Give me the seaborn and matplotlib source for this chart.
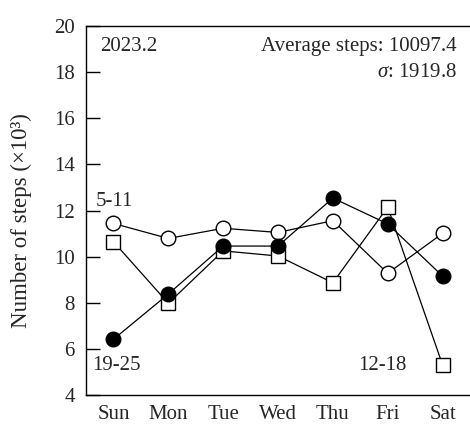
import numpy as np
import pandas as pd
import matplotlib
matplotlib.use("Agg")
import matplotlib.pyplot as plt
import seaborn as sns

days = ["Sun", "Mon", "Tue", "Wed", "Thu", "Fri", "Sat"]
week_5_11 = [11.44, 10.79, 11.23, 11.05, 11.56, 9.28, 11.01]
week_12_18 = [10.65, 7.98, 10.25, 10.03, 8.87, 12.15, 5.31]
week_19_25 = [6.42, 8.38, 10.46, 10.46, 12.54, 11.42, 9.16]
weeks = ["5-11", "12-18", "19-25"]
yticks = [4, 6, 8, 10, 12, 14, 16, 18, 20]

sns.set_theme(style="white")
plt.rcParams["font.family"] = ["Liberation Serif", "DejaVu Serif"]
plt.rcParams["mathtext.fontset"] = "custom"
plt.rcParams["mathtext.rm"] = "Liberation Serif"
plt.rcParams["mathtext.it"] = "Liberation Serif:italic"

FS = 15

pos = np.arange(len(days))
df = pd.DataFrame({
    "pos": np.tile(pos, 3),
    "steps": week_5_11 + week_12_18 + week_19_25,
    "week": np.repeat(weeks, len(days)),
})

fig = plt.figure(figsize=(4.7, 4.24), dpi=100)
ax = fig.add_axes([0.183, 0.068, 0.817, 0.871])

styles = {
    "5-11": dict(marker="o", markerfacecolor="white", markersize=10.5),
    "12-18": dict(marker="s", markerfacecolor="white", markersize=10.5),
    "19-25": dict(marker="o", markerfacecolor="black", markersize=10.5),
}
for wk in weeks:
    sub = df[df["week"] == wk]
    sns.lineplot(data=sub, x="pos", y="steps", ax=ax, color="black",
                 linewidth=0.9, markeredgecolor="black", markeredgewidth=1.0,
                 estimator=None, sort=False, **styles[wk])

ax.set_xlim(-0.5, 6.5)
ax.set_ylim(4, 20)
ax.set_xticks(pos)
ax.set_xticklabels(days)
ax.set_yticks(yticks)
ax.set_xlabel("")
ax.set_ylabel("Number of steps (×10³)", fontsize=16.5)
ax.yaxis.set_label_coords(-0.14, 0.472)
ax.tick_params(axis="x", length=0, pad=7, labelsize=FS)
ax.tick_params(axis="y", direction="in", length=10, width=1, pad=8,
               labelsize=FS, color="black", left=True)
for side in ["left", "bottom", "top"]:
    ax.spines[side].set_color("black")
    ax.spines[side].set_linewidth(1.0)
ax.spines["right"].set_visible(False)
ax.grid(False)

ax.text(0.036, 0.943, "2023.2", transform=ax.transAxes, fontsize=FS,
        ha="left", va="center")
ax.text(0.966, 0.943, "Average steps: 10097.4", transform=ax.transAxes,
        fontsize=FS, ha="right", va="center")
ax.text(0.966, 0.873, r"$\it{\sigma}$: 1919.8", transform=ax.transAxes,
        fontsize=FS, ha="right", va="center")

ax.text(-0.32, 12.4, "5-11", fontsize=FS, ha="left", va="center")
ax.text(-0.39, 5.3, "19-25", fontsize=FS, ha="left", va="center")
ax.text(5.34, 5.3, "12-18", fontsize=FS, ha="right", va="center")

fig.savefig("out.png", dpi=100)
